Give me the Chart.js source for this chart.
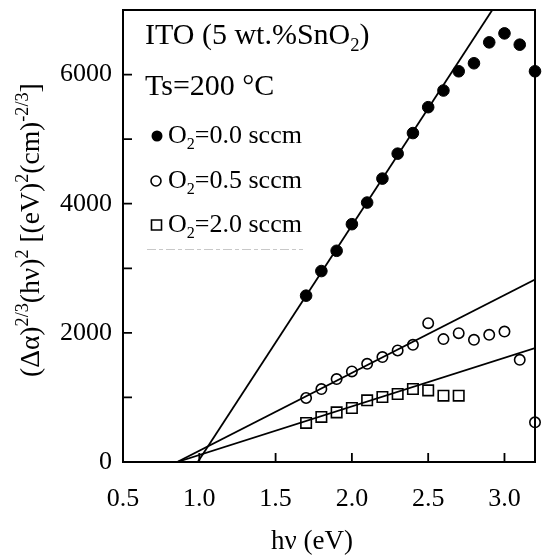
<!DOCTYPE html>
<html>
<head>
<meta charset="utf-8">
<script src="https://cdn.jsdelivr.net/npm/chart.js@4/dist/chart.umd.min.js"></script>
<style>
  html,body{margin:0;padding:0;background:#fff;}
  #wrap{width:544px;height:555px;position:relative;}
</style>
</head>
<body>
<div id="wrap"><canvas id="c"></canvas></div>
<script>
// ---- data ----
const hv = [1.7,1.8,1.9,2.0,2.1,2.2,2.3,2.4,2.5,2.6,2.7,2.8,2.9,3.0,3.1,3.2];
const o2_00 = [2576,2957,3271,3683,4018,4389,4775,5094,5495,5753,6051,6175,6499,6638,6463,6051];
const o2_05 = [991,1130,1285,1402,1521,1625,1727,1815,2150,1903,1995,1892,1969,2020,1583,615];
const hvSq = [1.7,1.8,1.9,2.0,2.1,2.2,2.3,2.4,2.5,2.6,2.7];
const o2_20 = [605,698,769,837,955,1007,1053,1130,1109,1027,1027];

// linear fits (end points)
const fit00X = [0.99, 2.92], fit00Y = [0, 7000];
const fit05X = [0.855, 3.2], fit05Y = [0, 2825];
const fit20X = [0.855, 3.2], fit20Y = [0, 1764];

// ticks
const xTicks = [0.5,1.0,1.5,2.0,2.5,3.0];
const yTickLabels = [0,2000,4000,6000];

const FONT = '"Liberation Serif","DejaVu Serif","Times New Roman",serif';

const pts = (xs, ys) => xs.map((x,i)=>({x:x, y:ys[i]}));

function rich(ctx, parts, x, y, size, supR){
  const r = supR || 0.62;
  let cx = x;
  parts.forEach(p=>{
    const s = p.s ? size*r : size;
    ctx.font = s + 'px ' + FONT;
    const dy = p.s==='sub' ? size*0.22 : (p.s==='sup' ? -size*0.40 : 0);
    ctx.fillText(p.t, cx, y+dy);
    cx += ctx.measureText(p.t).width;
  });
  return cx - x;
}
function richWidth(ctx, parts, size, supR){
  const r = supR || 0.62;
  let w = 0;
  parts.forEach(p=>{
    const s = p.s ? size*r : size;
    ctx.font = s + 'px ' + FONT;
    w += ctx.measureText(p.t).width;
  });
  return w;
}

const decor = {
  id:'decor',
  afterDraw(chart){
    const {ctx, chartArea:a, scales} = chart;
    const xs = scales.x, ys = scales.y;
    ctx.save();
    ctx.strokeStyle = '#000';
    ctx.fillStyle = '#000';
    // frame
    ctx.lineWidth = 2;
    ctx.strokeRect(a.left, a.top, a.right-a.left, a.bottom-a.top);
    // inward ticks
    ctx.lineWidth = 1.8;
    ctx.beginPath();
    xTicks.forEach(v=>{
      const px = xs.getPixelForValue(v);
      ctx.moveTo(px, a.bottom); ctx.lineTo(px, a.bottom-9);
    });
    ys.ticks.forEach(t=>{
      const py = ys.getPixelForValue(t.value);
      ctx.moveTo(a.left, py); ctx.lineTo(a.left+9, py);
    });
    ctx.stroke();

    // annotation text
    ctx.textBaseline = 'alphabetic';
    ctx.textAlign = 'left';
    rich(ctx, [{t:'ITO (5 wt.%SnO'},{t:'2',s:'sub'},{t:')'}], 145, 44, 30);
    rich(ctx, [{t:'Ts=200 °C'}], 145, 95, 30);

    // legend
    const L = [
      {style:'fill', y:143},
      {style:'open', y:188},
      {style:'sq', y:232}
    ];
    const labels = ['0.0','0.5','2.0'];
    L.forEach((e,i)=>{
      const my = e.y - 7;
      ctx.lineWidth = 1.6;
      ctx.beginPath();
      if(e.style==='fill'){ ctx.arc(157, my, 5.5, 0, Math.PI*2); ctx.fill(); }
      else if(e.style==='open'){ ctx.arc(156, my, 5, 0, Math.PI*2); ctx.stroke(); }
      else { ctx.rect(151.5, my-5, 10, 10); ctx.stroke(); }
      rich(ctx, [{t:'O'},{t:'2',s:'sub'},{t:'='+labels[i]+' sccm'}], 168, e.y, 26);
    });
    // faint scan lines of the legend box
    ctx.strokeStyle = '#c8c8c8';
    ctx.lineWidth = 1;
    ctx.setLineDash([9,3,4,3]);
    ctx.beginPath();
    ctx.moveTo(147, 249.5); ctx.lineTo(303, 249.5);
    ctx.stroke();
    ctx.setLineDash([]);

    // axis titles
    ctx.fillStyle = '#000';
    ctx.font = '27px ' + FONT;
    ctx.textAlign = 'center';
    ctx.fillText('h\u03bd (eV)', 312, 549);
    ctx.textAlign = 'left';

    const yt = [
      {t:'(\u0394\u03b1)'},{t:'2/3',s:'sup'},{t:'(h\u03bd)'},{t:'2',s:'sup'},
      {t:' [(eV)'},{t:'2',s:'sup'},{t:'(cm)'},{t:'-2/3',s:'sup'},{t:']'}
    ];
    let size = 26;
    const w = richWidth(ctx, yt, size, 0.66);
    size = Math.min(28, size * 294 / w);
    ctx.translate(39, 377);
    ctx.rotate(-Math.PI/2);
    rich(ctx, yt, 0, 0, size, 0.66);
    ctx.restore();
  }
};

new Chart(document.getElementById('c'), {
  type:'scatter',
  data:{
    datasets:[
      {label:'fit 0.0', type:'line', data:pts(fit00X,fit00Y), borderColor:'#000', borderWidth:1.8, pointRadius:0, fill:false, tension:0},
      {label:'fit 0.5', type:'line', data:pts(fit05X,fit05Y), borderColor:'#000', borderWidth:1.8, pointRadius:0, fill:false, tension:0},
      {label:'fit 2.0', type:'line', data:pts(fit20X,fit20Y), borderColor:'#000', borderWidth:1.8, pointRadius:0, fill:false, tension:0},
      {label:'O2=0.0 sccm', data:pts(hv,o2_00), clip:10, pointStyle:'circle', pointRadius:5.8, backgroundColor:'#000', borderColor:'#000', borderWidth:1},
      {label:'O2=0.5 sccm', data:pts(hv,o2_05), clip:10, pointStyle:'circle', pointRadius:5.2, backgroundColor:'#fff', borderColor:'#000', borderWidth:1.6},
      {label:'O2=2.0 sccm', data:pts(hvSq,o2_20), clip:10, pointStyle:'rect', pointRadius:7.4, backgroundColor:'#fff', borderColor:'#000', borderWidth:1.6}
    ]
  },
  options:{
    responsive:true,
    maintainAspectRatio:false,
    animation:false,
    events:[],
    layout:{padding:{left:0,right:7,top:10,bottom:0}},
    plugins:{legend:{display:false}, tooltip:{enabled:false}},
    scales:{
      x:{
        type:'linear', min:0.5, max:3.2,
        grid:{display:false, drawTicks:false},
        border:{display:false},
        afterBuildTicks:(s)=>{ s.ticks = xTicks.map(v=>({value:v})); },
        afterFit:(s)=>{ s.height = 93; s.paddingLeft = 0; s.paddingRight = 0; },
        ticks:{autoSkip:false, maxRotation:0, padding:22, color:'#000',
          font:{family:FONT, size:26},
          callback:(v)=>Number(v).toFixed(1)}
      },
      y:{
        type:'linear', min:0, max:7000,
        grid:{display:false, drawTicks:false},
        border:{display:false},
        afterFit:(s)=>{ s.width = 123; s.paddingTop = 0; s.paddingBottom = 0; },
        ticks:{stepSize:1000, padding:11, color:'#000',
          font:{family:FONT, size:26},
          callback:(v)=> yTickLabels.includes(v) ? String(v) : ''}
      }
    }
  },
  plugins:[decor]
});
</script>
</body>
</html>
